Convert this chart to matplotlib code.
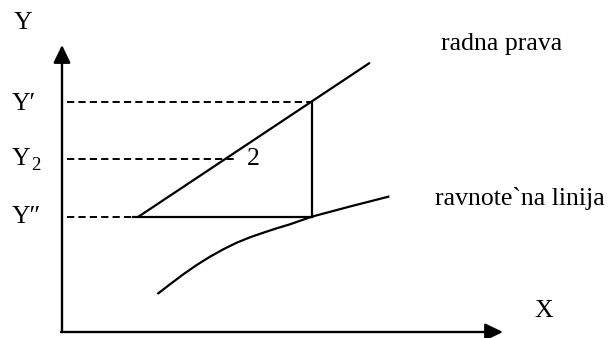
import matplotlib
matplotlib.use("Agg")
import matplotlib.pyplot as plt

plt.rcParams['font.family'] = ['Liberation Serif', 'DejaVu Serif']
plt.rcParams['lines.scale_dashes'] = False

# coordinates in drawing units (pixels of the 613x338 picture, y down)
y_prime = 101.5      # Y'
y_two = 159.0        # Y2
y_dprime = 217.0     # Y''
x_corner = 311.7     # vertical leg of the triangle

# radna prava (operating line)
op_x = [138, 370]
op_y = [217, 62.7]

# ravnoteža linija (equilibrium curve)
eq_x = [158.3, 170, 183.3, 196.7, 210, 223.3, 236.7, 250, 263.3, 276.7,
        290, 311.7, 350, 388.3]
eq_y = [293.3, 284.3, 274.3, 265, 256.7, 249.3, 242.7, 237.3, 232.7, 228.3,
        224.3, 216.7, 206.5, 196.7]

# dashed level lines: (level, x start, x end)
dash_levels = [y_prime, y_two, y_dprime]
dash_start = [67, 67, 67]
dash_end = [311.7, 237, 138]

fig = plt.figure(figsize=(6.13, 3.38), dpi=100)
ax = fig.add_axes([0, 0, 1, 1])
ax.set_xlim(0, 613)
ax.set_ylim(338, 0)
ax.axis('off')

lw = 1.6
dash = (0, (5.2, 3.0))

# axes with arrows
ax.annotate('', xy=(62, 45), xytext=(62, 332),
            arrowprops=dict(arrowstyle='-|>,head_length=10.8,head_width=5.2',
                            mutation_scale=1, lw=1.7, color='black',
                            shrinkA=0, shrinkB=0))
ax.annotate('', xy=(503, 332), xytext=(61, 332),
            arrowprops=dict(arrowstyle='-|>,head_length=10.8,head_width=5.2',
                            mutation_scale=1, lw=1.7, color='black',
                            shrinkA=0, shrinkB=0))

# dashed lines
for lvl, x0, x1 in zip(dash_levels, dash_start, dash_end):
    ax.plot([x0, x1], [lvl, lvl], color='black', lw=1.4, linestyle=dash)

# triangle + lines
ax.plot(op_x, op_y, color='black', lw=lw, solid_capstyle='butt')
ax.plot([133, x_corner], [y_dprime, y_dprime], color='black', lw=lw)
ax.plot([x_corner, x_corner], [y_prime, y_dprime], color='black', lw=lw)
ax.plot(eq_x, eq_y, color='black', lw=lw, solid_joinstyle='round')

fs = 18.5
ax.text(14, 29, 'Y', fontsize=fs, ha='left', va='baseline')
ax.text(12, 110, 'Y\u2032', fontsize=fs, ha='left', va='baseline')
ax.text(12, 165, 'Y', fontsize=fs, ha='left', va='baseline')
ax.text(31, 170, '2', fontsize=13.5, ha='left', va='baseline')
ax.text(12, 223, 'Y\u2033', fontsize=fs, ha='left', va='baseline')
ax.text(247, 165, '2', fontsize=fs, ha='left', va='baseline')
ax.text(441, 50, 'radna prava', fontsize=fs, ha='left', va='baseline')
ax.text(435, 205, 'ravnote`na linija', fontsize=fs, ha='left', va='baseline')
ax.text(534, 317, 'X', fontsize=fs, ha='left', va='baseline')

fig.savefig('out.png', dpi=100)
